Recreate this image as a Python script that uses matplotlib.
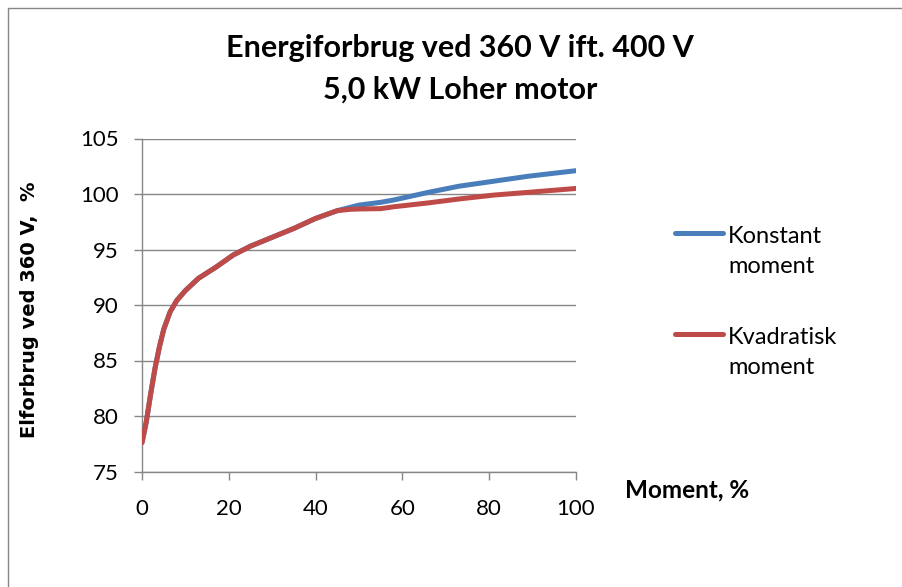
import matplotlib.pyplot as plt
from matplotlib.patches import Rectangle
from matplotlib.lines import Line2D

moment = [0, 1, 2, 3, 4, 5, 6.5, 8, 10, 13, 17, 21, 25, 30, 35, 40, 45, 48, 50, 55, 58, 66, 73, 81, 89, 100]
konstant = [77.6, 79.5, 82.0, 84.3, 86.2, 87.8, 89.4, 90.4, 91.3, 92.4, 93.4, 94.5, 95.3, 96.1, 96.9,
            97.8, 98.5, 98.8, 99.0, 99.25, 99.46, 100.15, 100.7, 101.15, 101.6, 102.1]
kvadratisk = [77.6, 79.5, 82.0, 84.3, 86.2, 87.8, 89.4, 90.4, 91.3, 92.4, 93.4, 94.5, 95.3, 96.1, 96.9,
              97.8, 98.5, 98.62, 98.65, 98.68, 98.85, 99.2, 99.55, 99.9, 100.15, 100.5]

x_ticks = [0, 20, 40, 60, 80, 100]
y_ticks = [75, 80, 85, 90, 95, 100, 105]

blue = '#4a7ebb'
red = '#be4b48'
grey = '#868686'

plt.rcParams['font.family'] = ['Lato', 'DejaVu Sans']

fig = plt.figure(figsize=(9.03, 5.87), dpi=100)
W, H = 903, 587

# chart border
fig.patches.append(Rectangle((8 / W, -0.1), 1.2, 1 - 8 / H + 0.1, transform=fig.transFigure,
                             fill=False, edgecolor=grey, linewidth=1))

ax = fig.add_axes([142 / W, 1 - 471.5 / H, (576 - 142) / W, (471.5 - 138.5) / H])
ax.plot(moment, konstant, color=blue, linewidth=3.6, solid_capstyle='round', solid_joinstyle='round', zorder=3)
ax.plot(moment, kvadratisk, color=red, linewidth=3.6, solid_capstyle='round', solid_joinstyle='round', zorder=4)

ax.set_xlim(0, 100)
ax.set_ylim(75, 105)
ax.set_xticks(x_ticks)
ax.set_yticks(y_ticks)
ax.grid(axis='y', color=grey, linewidth=1)
ax.set_axisbelow(True)
for s in ['top', 'right']:
    ax.spines[s].set_visible(False)
for s in ['left', 'bottom']:
    ax.spines[s].set_color(grey)
    ax.spines[s].set_linewidth(1)
ax.tick_params(colors=grey, direction='out', length=6, width=1, labelsize=16, labelcolor='black')
ax.tick_params(axis='y', pad=11)
ax.tick_params(axis='x', pad=14)

fig.text(30 / W, 1 - 310 / H, 'Elforbrug ved 360 V,  %', family='DejaVu Sans', fontweight='bold',
         fontsize=14, rotation=90, ha='center', va='center')
fig.text(625 / W, 1 - 490 / H, 'Moment, %', fontweight='bold', fontsize=17.5, va='center', ha='left')

fig.text(460 / W, 1 - 48 / H, 'Energiforbrug ved 360 V ift. 400 V', fontweight='bold', fontsize=22,
         ha='center', va='center')
fig.text(460 / W, 1 - 90 / H, '5,0 kW Loher motor', fontweight='bold', fontsize=22,
         ha='center', va='center')

# legend
for yy, col, lab in [(233, blue, 'Konstant\nmoment'), (334, red, 'Kvadratisk\nmoment')]:
    fig.lines.append(Line2D([675 / W, 723 / W], [1 - yy / H, 1 - yy / H], transform=fig.transFigure,
                            color=col, linewidth=3.6, solid_capstyle='round'))
    fig.text(728 / W, 1 - (yy - 7) / H, lab, fontsize=17, va='top', ha='left', linespacing=1.55)

fig.savefig('out.png', dpi=100)
